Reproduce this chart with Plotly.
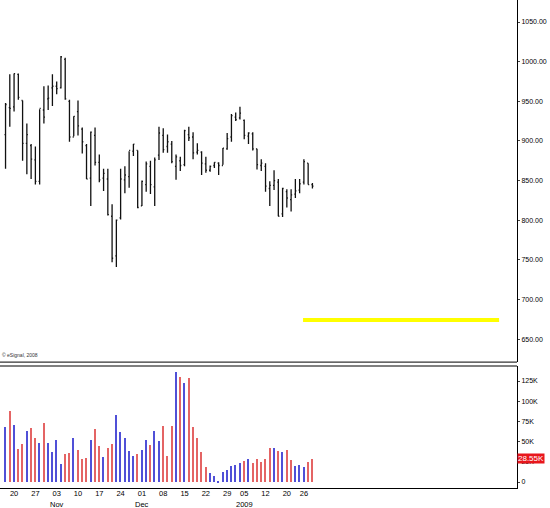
import plotly.graph_objects as go

# trading days, Oct 16 2008 .. Jan 30 2009 (index 0 = Oct 20)
dates = ["10-16", "10-17",
         "10-20", "10-21", "10-22", "10-23", "10-24", "10-27", "10-28", "10-29", "10-30", "10-31",
         "11-03", "11-04", "11-05", "11-06", "11-07", "11-10", "11-11", "11-12", "11-13", "11-14",
         "11-17", "11-18", "11-19", "11-20", "11-21", "11-24", "11-25", "11-26", "11-28",
         "12-01", "12-02", "12-03", "12-04", "12-05", "12-08", "12-09", "12-10", "12-11", "12-12",
         "12-15", "12-16", "12-17", "12-18", "12-19", "12-22", "12-23", "12-24", "12-26",
         "12-29", "12-30", "12-31", "01-02", "01-05", "01-06", "01-07", "01-08", "01-09",
         "01-12", "01-13", "01-14", "01-15", "01-16", "01-20", "01-21", "01-22", "01-23",
         "01-26", "01-27", "01-28", "01-29", "01-30"]
opens = [908, 942, 943, 984, 951, 897, 894, 876, 849, 939, 953, 967,
         969, 967, 1003, 950, 905, 937, 915, 894, 853, 907,
         873, 853, 852, 805, 755, 803, 851, 855, 887,
         888, 818, 845, 868, 842, 882, 907, 893, 896, 868,
         875, 870, 908, 905, 886, 886, 871, 863, 869,
         872, 869, 890, 905, 930, 929, 926, 906, 909,
         890, 869, 868, 840, 844, 848, 808, 836, 826,
         833, 838, 848, 872, 845]
highs = [948, 984, 985, 985, 951, 922, 896, 893, 940, 969, 970, 984,
         975, 1007, 1005, 952, 931, 951, 917, 896, 912, 917,
         883, 865, 865, 820, 801, 865, 868, 887, 896,
         888, 850, 874, 875, 879, 918, 916, 908, 900, 883,
         880, 914, 918, 911, 897, 887, 880, 869, 873,
         873, 891, 910, 934, 936, 943, 927, 911, 911,
         890, 877, 872, 849, 863, 852, 841, 839, 839,
         852, 852, 877, 872, 847]
lows = [865, 918, 937, 952, 875, 858, 852, 845, 845, 922, 939, 944,
        959, 966, 952, 899, 906, 907, 884, 852, 818, 869,
        848, 837, 806, 747, 741, 801, 834, 841, 881,
        815, 818, 836, 833, 818, 876, 885, 885, 872, 851,
        862, 868, 900, 877, 883, 857, 860, 861, 866,
        857, 870, 889, 899, 925, 927, 902, 896, 888,
        864, 862, 836, 818, 838, 805, 804, 816, 811,
        828, 834, 845, 845, 840]
closes = [946, 941, 985, 955, 897, 908, 877, 849, 941, 930, 954, 969,
          966, 1006, 953, 905, 931, 919, 899, 852, 911, 873,
          851, 859, 807, 752, 800, 852, 857, 888, 896,
          816, 849, 871, 845, 876, 910, 889, 899, 874, 880,
          869, 913, 904, 885, 888, 872, 863, 868, 873,
          869, 891, 903, 932, 927, 935, 907, 910, 890,
          870, 872, 843, 844, 850, 805, 840, 828, 832,
          837, 846, 874, 845, 843]
volume_k = [68.7, 88, 70.7, 40.7, 47.3, 63.7, 66.6, 54, 48.5, 73.6, 48.5, 37.4,
            51.8, 22.2, 34.5, 35.8, 54, 39.9, 28.8, 30, 51.8, 66.2,
            44, 31.2, 41.5, 47.3, 83, 62.5, 55, 37.8, 31.6,
            34.5, 39.5, 51.4, 46.4, 63.3, 51, 69.5, 31.6, 69.5, 135.6,
            130, 122.5, 129, 68.2, 54, 37, 18.9, 11.1, 7.8,
            1.5, 11.9, 15.2, 20.1, 20.6, 23, 25.5, 28, 23.8,
            28.8, 24.7, 28.8, 41.9, 41.9, 39, 37, 39.5, 27.5,
            20.1, 21.4, 18, 24.7, 28.55]
volume_up = [True, False, True, False, False, True, False, False, True, False, True, True,
             True, True, False, False, True, False, False, False, True, False,
             False, True, False, False, True, True, True, True, True,
             False, True, True, False, True, True, False, False, False, True,
             False, True, False, False, False, False, False, True, True,
             True, True, True, True, True, True, False, True, False,
             False, False, False, False, True, False, True, False, False,
             True, True, True, False, False]
tick_idx = [0, 5, 10, 15, 20, 25, 30, 35, 40, 45, 50, 54, 59, 64, 68]
tick_text = ["20", "27", "03", "10", "17", "24", "01", "08", "15",
             "22", "29", "05", "12", "20", "26"]
month_idx = [10, 30, 54]
month_text = ["Nov", "Dec", "2009"]

x = list(range(-2, len(dates) - 2))
bar_colors = ["rgb(80,80,215)" if u else "rgb(228,100,100)" for u in volume_up]

fig = go.Figure()
fig.add_trace(go.Ohlc(x=x, open=opens, high=highs, low=lows, close=closes,
                      increasing_line_color="#111", decreasing_line_color="#111",
                      line_width=1.3, tickwidth=0.25, yaxis="y", xaxis="x",
                      hoverinfo="skip"))
fig.add_trace(go.Bar(x=x, y=volume_k, marker_color=bar_colors, width=0.35,
                     marker_line_width=0, yaxis="y2", xaxis="x"))

fig.add_shape(type="line", x0=67.8, x1=113.8, y0=674, y1=674, xref="x", yref="y",
              line=dict(color="#ffff00", width=4))
fig.add_annotation(x=0, y=0.262, xref="paper", yref="paper", xanchor="left",
                   yanchor="bottom", text="© eSignal, 2008", showarrow=False,
                   font=dict(size=5, color="#333"))
fig.add_annotation(x=1, y=28.55, xref="paper", yref="y2", xanchor="left",
                   text="28.55K", showarrow=False, bgcolor="#e8161c",
                   font=dict(size=8, color="white"), borderpad=0)
for mi, mt in zip(month_idx, month_text):
    fig.add_annotation(x=mi, y=0, xref="x", yref="paper", yanchor="top", yshift=-11,
                       text=mt, showarrow=False, font=dict(size=7.5),
                       borderpad=0)

fig.update_layout(
    width=550, height=508, margin=dict(l=0, r=33, t=0, b=20, autoexpand=False),
    paper_bgcolor="white", plot_bgcolor="white", showlegend=False,
    font=dict(family="Liberation Sans", size=8, color="black"), bargap=0,
    xaxis=dict(range=[-3.3, 118], tickvals=tick_idx, ticktext=tick_text,
               tickangle=0, showgrid=False, zeroline=False, rangeslider_visible=False,
               anchor="y2", ticks="", showline=True, linecolor="black", linewidth=1,
               automargin=False, ticklabelstandoff=-2,
               tickfont=dict(size=7.5, color="black")),
    yaxis=dict(domain=[0.258, 1], range=[621, 1077.8], side="right",
               tickvals=[650, 700, 750, 800, 850, 900, 950, 1000, 1050],
               ticktext=["650.00", "700.00", "750.00", "800.00", "850.00",
                         "900.00", "950.00", "1000.00", "1050.00"],
               showgrid=False, zeroline=False, showline=True, linecolor="black",
               ticks="outside", ticklen=2, anchor="x", automargin=False,
               tickfont=dict(size=7, color="black")),
    yaxis2=dict(domain=[0, 0.25], range=[-7.4, 143.6], side="right",
                tickvals=[0, 25, 50, 75, 100, 125],
                ticktext=["0", "25K", "50K", "75K", "100K", "125K"],
                showgrid=False, zeroline=False, showline=True, linecolor="black",
                ticks="outside", ticklen=2, anchor="x", automargin=False,
                tickfont=dict(size=7, color="black")),
)
fig.add_shape(type="line", x0=0, x1=1, y0=0.258, y1=0.258, xref="paper", yref="paper",
              line=dict(color="black", width=1))
fig.add_shape(type="line", x0=0, x1=1, y0=0.25, y1=0.25, xref="paper", yref="paper",
              line=dict(color="black", width=1))

fig.write_html("out.html", config={"displayModeBar": False},
               post_script="document.body.style.margin='0';document.body.style.overflow='hidden';")
